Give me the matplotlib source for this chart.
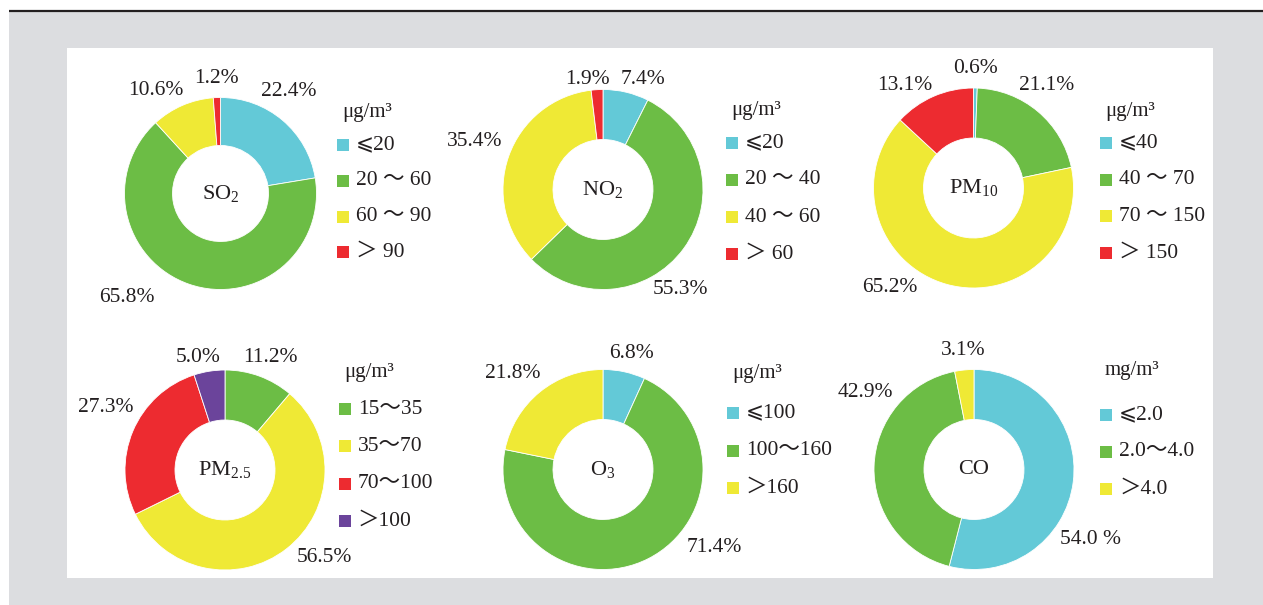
import matplotlib
matplotlib.use('Agg')
import matplotlib.pyplot as plt
from matplotlib.patches import Rectangle

plt.rcParams['font.family'] = ['Liberation Serif', 'Noto Sans CJK SC', 'DejaVu Sans']
plt.rcParams['mathtext.default'] = 'regular'

# colores de las clases
CYAN = '#63c9d7'
GREEN = '#6cbd45'
YELLOW = '#efe935'
RED = '#ed2b30'
PURPLE = '#6b449b'
INK = '#231f20'

# datos (porcentajes por clase de concentracion)
so2_vals = [22.4, 65.8, 10.6, 1.2]
so2_bins = ['⩽20', '20 ～ 60', '60 ～ 90', '＞ 90']
so2_cols = [CYAN, GREEN, YELLOW, RED]

no2_vals = [7.4, 55.3, 35.4, 1.9]
no2_bins = ['⩽20', '20 ～ 40', '40 ～ 60', '＞ 60']
no2_cols = [CYAN, GREEN, YELLOW, RED]

pm10_vals = [0.6, 21.1, 65.2, 13.1]
pm10_bins = ['⩽40', '40 ～ 70', '70 ～ 150', '＞ 150']
pm10_cols = [CYAN, GREEN, YELLOW, RED]

pm25_vals = [11.2, 56.5, 27.3, 5.0]
pm25_bins = ['15～35', '35～70', '70～100', '＞100']
pm25_cols = [GREEN, YELLOW, RED, PURPLE]

o3_vals = [6.8, 71.4, 21.8]
o3_bins = ['⩽100', '100～160', '＞160']
o3_cols = [CYAN, GREEN, YELLOW]

co_vals = [54.0, 42.9, 3.1]
co_bins = ['⩽2.0', '2.0～4.0', '＞4.0']
co_cols = [CYAN, GREEN, YELLOW]

W, H = 1263, 605
fig = plt.figure(figsize=(W / 100, H / 100), dpi=100)
fig.patch.set_facecolor('white')

# fondo en coordenadas de pixel
bg = fig.add_axes([0, 0, 1, 1])
bg.set_xlim(0, W)
bg.set_ylim(H, 0)
bg.axis('off')
bg.add_patch(Rectangle((9, 12), W - 9, H - 12, color='#dcdde0', lw=0))
bg.add_patch(Rectangle((67, 48), 1213 - 67, 578 - 48, color='white', lw=0))
bg.plot([9, W], [11, 11], color=INK, lw=1.6, solid_capstyle='butt')

# (nombre, valores, clases, colores, unidad, centro px, radio px, posiciones de etiquetas,
#  x cuadro leyenda, y titulo, y primer item, paso, formato)
charts = [
    ('SO$_2$', so2_vals, so2_bins, so2_cols, 'μg/m³', (220.5, 193.5), 96,
     [(0.71, 1.06), (-0.98, -1.08), (-0.67, 1.07), (-0.04, 1.20)],
     337, 112.5, 145, 35.8, None),
    ('NO$_2$', no2_vals, no2_bins, no2_cols, 'μg/m³', (603, 189.5), 100,
     [(0.40, 1.105), (0.77, -1.005), (-1.28, 0.475), (-0.16, 1.105)],
     726, 111, 143, 37, None),
    ('PM$_{10}$', pm10_vals, pm10_bins, pm10_cols, 'μg/m³', (973.5, 188), 100,
     [(0.025, 1.20), (0.735, 1.03), (-0.835, -1.0), (-0.685, 1.03)],
     1100, 111.5, 143, 36.7, None),
    ('PM$_{2.5}$', pm25_vals, pm25_bins, pm25_cols, 'μg/m³', (225, 470), 100,
     [(0.45, 1.12), (0.99, -0.88), (-1.19, 0.63), (-0.265, 1.13)],
     339, 372.5, 409, 37.3, None),
    ('O$_3$', o3_vals, o3_bins, o3_cols, 'μg/m³', (603, 469.5), 100,
     [(0.28, 1.165), (1.11, -0.775), (-0.90, 0.965)],
     727, 373.5, 413, 37.5, None),
    ('CO', co_vals, co_bins, co_cols, 'mg/m³', (974, 469.5), 100,
     [(1.17, -0.705), (-1.09, 0.775), (-0.105, 1.195)],
     1100, 370, 415, 37, ['{:.1f} %', '{:.1f}%', '{:.1f}%']),
]

FS = 15.5

for name, vals, bins, cols, unit, (cx, cy), r, lpos, lx, ty, y0, step, fmts in charts:
    ax = fig.add_axes([(cx - r) / W, 1 - (cy + r) / H, 2 * r / W, 2 * r / H])
    ax.pie(vals, colors=cols, startangle=90, counterclock=False, radius=1,
           wedgeprops=dict(width=0.5, edgecolor='white', linewidth=0.6))
    ax.set_xlim(-1, 1)
    ax.set_ylim(-1, 1)
    ax.axis('off')
    ax.text(0, 0, name, ha='center', va='center', fontsize=FS + 0.5, color=INK)
    for i, v in enumerate(vals):
        f = fmts[i] if fmts else '{:.1f}%'
        ax.text(lpos[i][0], lpos[i][1], f.format(v), ha='center', va='center',
                fontsize=FS, color=INK, clip_on=False)

    # leyenda manual
    bg.text(lx + 5, ty, unit, ha='left', va='center', fontsize=FS - 0.5, color=INK)
    for i, (b, c) in enumerate(zip(bins, cols)):
        yy = y0 + i * step
        bg.add_patch(Rectangle((lx, yy - 6), 12, 12, color=c, lw=0))
        bg.text(lx + 19, yy, b, ha='left', va='center', fontsize=FS, color=INK)

fig.savefig('out.png', dpi=100)
